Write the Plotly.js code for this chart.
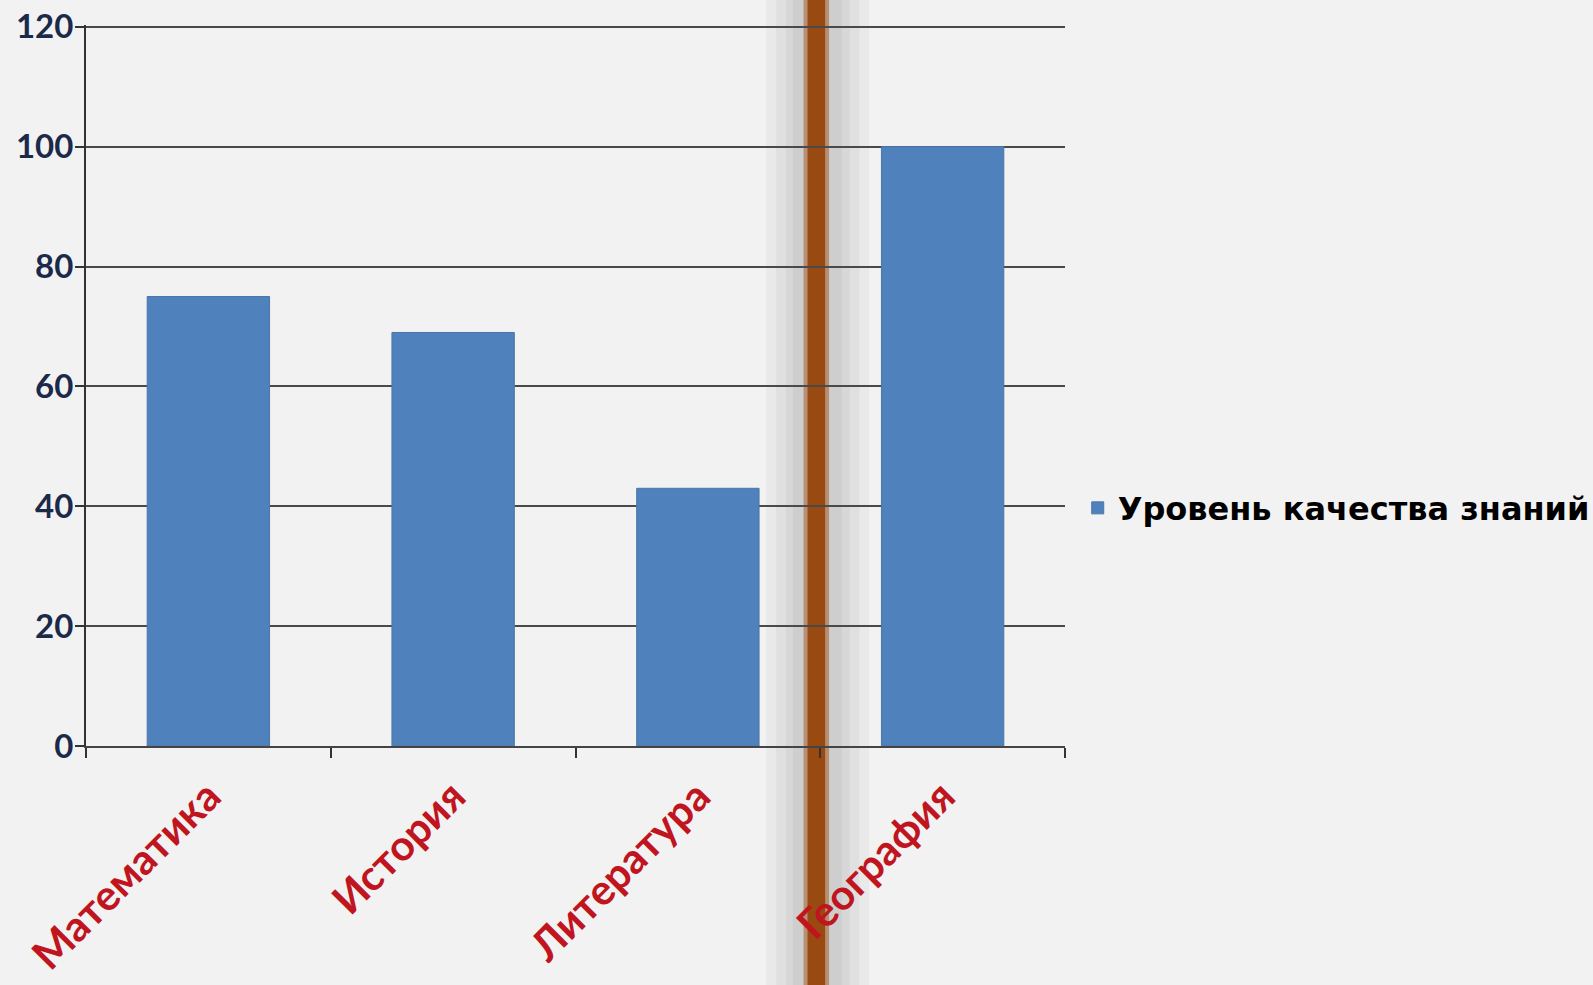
<!DOCTYPE html>
<html>
<head>
<meta charset="utf-8">
<script src="https://cdn.plot.ly/plotly-3.0.1.min.js"></script>
<style>html,body{margin:0;padding:0;background:#f2f2f2;}#chart{width:1593px;height:985px;}</style>
</head>
<body>
<div id="chart"></div>
<script>
const categories = ["Математика", "История", "Литература", "География"];
const values = [75, 69, 43, 100];
const seriesName = "Уровень качества знаний";
const yTicks = [0, 20, 40, 60, 80, 100, 120];

// decorative vertical band (book spine), in paper coordinates
const bandShapes = [];
const halo = [[0.695, 0.800, 0.035], [0.705, 0.790, 0.035], [0.715, 0.780, 0.04], [0.722, 0.772, 0.04]];
halo.forEach(h => bandShapes.push({type:'rect', xref:'paper', yref:'paper', x0:h[0], x1:h[1], y0:-0.34, y1:1.04, fillcolor:'#000', opacity:h[2], line:{width:0}, layer:'below'}));
bandShapes.push({type:'rect', xref:'paper', yref:'paper', x0:0.733, x1:0.759, y0:-0.34, y1:1.04, fillcolor:'#a0521a', opacity:0.5, line:{width:0}, layer:'below'});
bandShapes.push({type:'rect', xref:'paper', yref:'paper', x0:0.737, x1:0.755, y0:-0.34, y1:1.04, fillcolor:'#984a10', opacity:1, line:{width:0}, layer:'below'});

const trace = {
  type: 'bar',
  x: categories,
  y: values,
  name: seriesName,
  showlegend: true,
  marker: {color: '#4f81bd', line: {color: '#4a76a8', width: 1}},
  width: 0.5
};

const layout = {
  width: 1593, height: 985,
  margin: {l: 86, r: 528, t: 25, b: 239, autoexpand: false},
  paper_bgcolor: '#f2f2f2',
  plot_bgcolor: 'rgba(0,0,0,0)',
  showlegend: true,
  legend: {x: 1.013, xanchor: 'left', y: 0.33, yanchor: 'middle', bgcolor: 'rgba(0,0,0,0)',
           font: {family: 'DejaVu Sans', size: 32, color: '#000', weight: 'bold'}},
  xaxis: {
    type: 'category',
    tickson: 'boundaries',
    ticks: 'outside', ticklen: 10, tickcolor: '#333', tickwidth: 2,
    showline: true, linecolor: '#444', linewidth: 2,
    showgrid: false,
    tickangle: -45,
    ticklabelstandoff: 7,
    automargin: false,
    tickfont: {family: 'Lato', size: 42, color: '#c0141e', weight: 'bold'},
    range: [-0.5, 3.5]
  },
  yaxis: {
    range: [0, 120.3],
    tickvals: yTicks,
    ticks: 'outside', ticklen: 9, tickcolor: '#333', tickwidth: 2,
    showline: true, linecolor: '#333', linewidth: 2,
    showgrid: true, gridcolor: '#4a4a4a', gridwidth: 2,
    zeroline: false,
    automargin: false,
    ticklabelstandoff: -5,
    tickfont: {family: 'Lato', size: 33, color: '#1c2a4a', weight: 'bold'}
  },
  shapes: bandShapes
};

Plotly.newPlot('chart', [trace], layout, {displayModeBar: false, staticPlot: true});
</script>
</body>
</html>
